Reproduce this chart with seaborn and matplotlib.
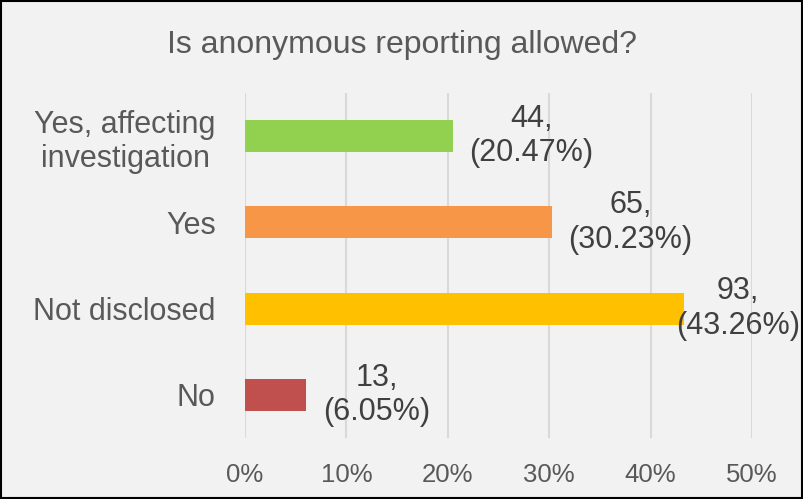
import matplotlib
matplotlib.use("Agg")
import matplotlib.pyplot as plt
import seaborn as sns
import pandas as pd
from matplotlib.ticker import PercentFormatter, MultipleLocator
from matplotlib.patches import Rectangle

categories = ["Yes, affecting\ninvestigation", "Yes", "Not disclosed", "No"]
counts = [44, 65, 93, 13]
percents = [20.47, 30.23, 43.26, 6.05]
colors = ["#92D050", "#F79646", "#FFC000", "#C0504D"]
title = "Is anonymous reporting allowed?"

df = pd.DataFrame({"category": categories, "share": [p / 100 for p in percents],
                   "count": counts, "pct": percents})

sns.set_theme(style="white")
plt.rcParams["font.family"] = ["Liberation Sans", "DejaVu Sans"]

W, H = 804, 499
fig = plt.figure(figsize=(W / 100, H / 100), dpi=100, facecolor="#F2F2F2")
ax = fig.add_axes([245 / W, (H - 438) / H, (752 - 245) / W, (438 - 93) / H])
ax.set_facecolor("#F2F2F2")

sns.barplot(data=df, x="share", y="category", hue="category", palette=colors,
            orient="h", width=0.37, legend=False, ax=ax, saturation=1,
            linewidth=0, edgecolor="none", zorder=3)

ax.set_xlim(0, 0.5)
ax.xaxis.set_major_locator(MultipleLocator(0.1))
ax.xaxis.set_major_formatter(PercentFormatter(1.0, decimals=0))
ax.set_xlabel("")
ax.set_ylabel("")
for s in ax.spines.values():
    s.set_visible(False)
ax.grid(axis="x", color="#D9D9D9", linewidth=1.5, zorder=0)
ax.set_axisbelow(True)
ax.tick_params(axis="x", length=0, pad=18, labelsize=18.5, labelcolor="#595959")
ax.tick_params(axis="y", length=0, pad=21, labelsize=22, labelcolor="#595959")
for lbl in ax.get_yticklabels():
    lbl.set_multialignment("center")

fig.text(0.5, 1 - 45 / H, title, ha="center", va="center",
         fontsize=23, color="#595959")

# data labels
texts = []
for i, (c, p, v) in enumerate(zip(counts, percents, df["share"])):
    t = ax.annotate(f"{c},\n({p:.2f}%)", xy=(v, i), xytext=(12, 0),
                    textcoords="offset points", ha="left", va="center",
                    multialignment="center", fontsize=22, color="#404040",
                    linespacing=1.2, zorder=5, annotation_clip=False)
    texts.append(t)

fig.canvas.draw()
renderer = fig.canvas.get_renderer()
for t in texts:
    bb = t.get_window_extent(renderer)
    if bb.x1 > W - 4:
        shift = (bb.x1 - (W - 4)) * 72 / 100
        x0, y0 = t.xyann
        t.xyann = (x0 - shift, y0)

fig.add_artist(Rectangle((0.001, 0.002), 0.997, 0.995, transform=fig.transFigure,
                         fill=False, edgecolor="black", linewidth=1.5))

fig.savefig("out.png", dpi=100, facecolor=fig.get_facecolor())
